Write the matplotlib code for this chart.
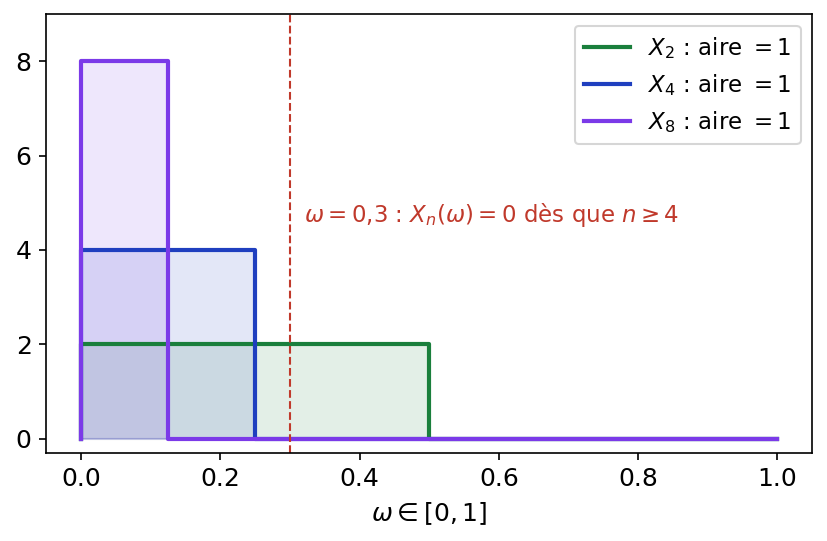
import numpy as np
import matplotlib.pyplot as plt

# valeurs de n et couleurs
ns = [2, 4, 8]
colors = ['#1a7f3c', '#1f3fbf', '#7b3ae8']
omega_mark = 0.3

fig, ax = plt.subplots(figsize=(827/150, 541/150), dpi=150)

for n, c in zip(ns, colors):
    # X_n = n * 1_[0, 1/n]
    xs = [0, 0, 1/n, 1/n, 1]
    ys = [0, n, n, 0, 0]
    ax.plot(xs, ys, color=c, lw=2, label=rf'$X_{n}$ : aire $=1$')
    ax.fill_between([0, 1/n], [n, n], color=c, alpha=0.12)

ax.axvline(omega_mark, color='#c0392b', ls='--', lw=1)
ax.text(0.32, 4.75, r'$\omega = 0{,}3$ : $X_n(\omega) = 0$ dès que $n \geq 4$',
        color='#c0392b', fontsize=11, va='center')

ax.set_xlim(-0.05, 1.05)
ax.set_ylim(-0.3, 9)
ax.tick_params(labelsize=12)
ax.set_xlabel(r'$\omega \in [0,1]$', fontsize=12)
ax.legend(loc='upper right', fontsize=11)
fig.subplots_adjust(left=0.056, right=0.982, top=0.974, bottom=0.163)
fig.savefig('out.png')
